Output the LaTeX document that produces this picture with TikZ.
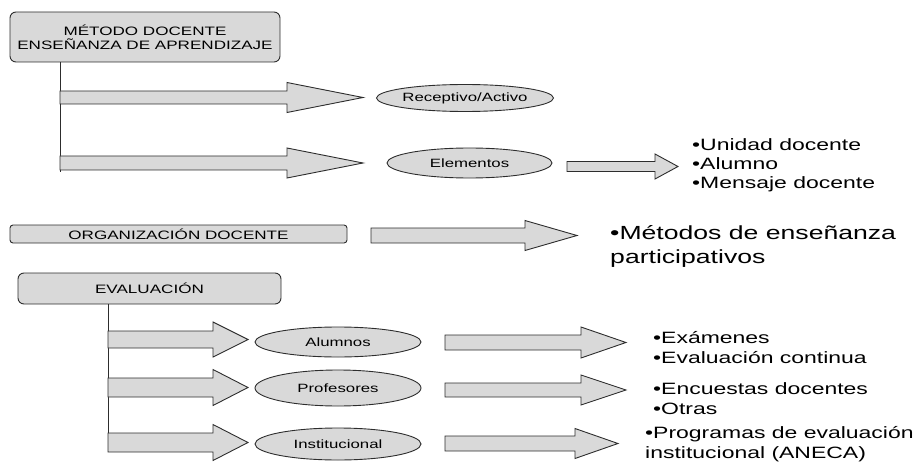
\documentclass[tikz,border=0pt]{standalone}
\usepackage{fontspec}
\usetikzlibrary{shapes.geometric}
\newfontfamily\af[FakeStretch=1.4]{Liberation Sans}
\definecolor{boxfill}{RGB}{217,217,217}
\definecolor{edge}{RGB}{45,45,45}
\newcommand{\blockarrow}[6]{%
  \draw[blockarr] (#1,#4-#5) -- (#2,#4-#5) -- (#2,#4-#6) -- (#3,#4) -- (#2,#4+#6) -- (#2,#4+#5) -- (#1,#4+#5) -- cycle;}
\begin{document}
\begin{tikzpicture}[x=1pt,y=-1pt,
  headbox/.style={draw=edge,fill=boxfill,line width=0.9pt,rounded corners=6pt,inner sep=0pt,align=center,
     font=\af\fontsize{12.2}{14}\selectfont},
  ovalbox/.style={ellipse,draw=edge,fill=boxfill,line width=0.9pt,inner sep=0pt,
     font=\af\fontsize{12}{14}\selectfont},
  blockarr/.style={draw=edge,fill=boxfill,line width=0.9pt,line join=miter},
  conn/.style={draw=edge,line width=0.9pt},
  listtext/.style={anchor=base west,inner sep=0pt,font=\af\fontsize{16.4}{20}\selectfont},
  bigtext/.style={anchor=base west,inner sep=0pt,font=\af\fontsize{19}{24}\selectfont}]
\useasboundingbox (0,0) rectangle (917,473);

% header boxes
\node[headbox,minimum width=270pt,minimum height=50pt] (metodo) at (145,37) {MÉTODO DOCENTE\\ENSEÑANZA DE APRENDIZAJE};
\node[headbox,rounded corners=3pt,minimum width=337pt,minimum height=18pt] (organ) at (178.5,234) {ORGANIZACIÓN DOCENTE};
\node[headbox,minimum width=263pt,minimum height=31pt] (evalu) at (149.5,288.5) {EVALUACIÓN};

% vertical stems
\coordinate (v1) at (60,172);
\coordinate (v2) at (108,451);
\draw[conn] (v1 |- metodo.south) -- (v1);
\draw[conn] (v2 |- evalu.south) -- (v2);

% arrows from stems
\blockarrow{60}{287}{363}{97.5}{6.5}{15}
\blockarrow{60}{287}{363}{163}{7}{15}
\blockarrow{567}{655}{678}{166.5}{5}{12.5}
\blockarrow{371}{525}{577}{235.5}{7.5}{15}
\blockarrow{108}{213}{248}{339.5}{8.5}{17.5}
\blockarrow{108}{213}{248}{387.5}{9.5}{18}
\blockarrow{108}{213}{248}{442.5}{9.5}{18}
\blockarrow{445}{581}{626}{342.5}{7.5}{15.5}
\blockarrow{445}{581}{626}{390}{7}{15}
\blockarrow{445}{575}{618}{443.5}{7.5}{15}

% ellipses
\node[ovalbox,minimum width=156pt,minimum height=27pt] (recep) at (465,98) {Receptivo/Activo};
\node[ovalbox,minimum width=165pt,minimum height=30pt] (elem) at (469.5,163) {Elementos};
\node[ovalbox,minimum width=166pt,minimum height=30pt] (alum) at (338,342) {Alumnos};
\node[ovalbox,minimum width=166pt,minimum height=36pt] (prof) at (338,388) {Profesores};
\node[ovalbox,minimum width=166pt,minimum height=32pt] (inst) at (338,444) {Institucional};

% lists
\node[listtext] (l1) at (692,151) {•Unidad docente};
\node[listtext] (l2) at (692,170) {•Alumno};
\node[listtext] (l3) at (692,189) {•Mensaje docente};
\node[bigtext] (m1) at (610,239) {•Métodos de enseñanza};
\node[bigtext] (m2) at (610,263) {participativos};
\node[listtext] (e1) at (653,343) {•Exámenes};
\node[listtext] (e2) at (653,363) {•Evaluación continua};
\node[listtext] (p1) at (653,394) {•Encuestas docentes};
\node[listtext] (p2) at (653,414) {•Otras};
\node[listtext] (i1) at (645,438) {•Programas de evaluación};
\node[listtext] (i2) at (645,458) {institucional (ANECA)};
\end{tikzpicture}
\end{document}
